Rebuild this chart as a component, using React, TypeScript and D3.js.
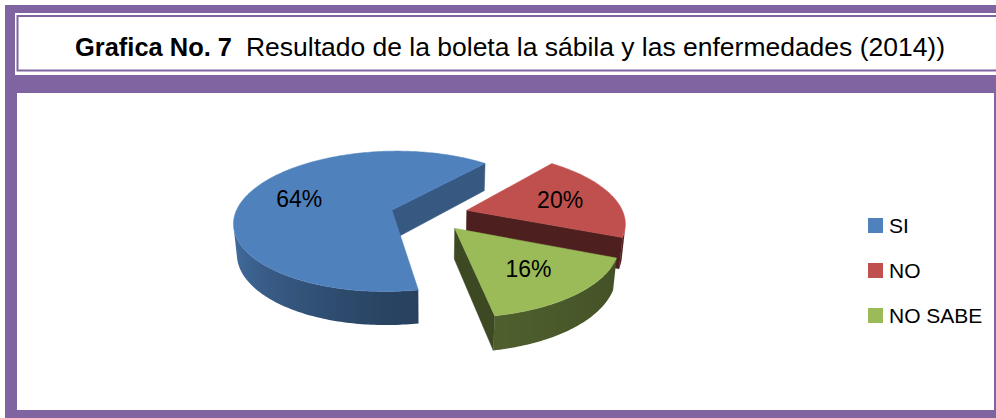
import React from 'react';
import * as d3 from 'd3';

// ---------- data ----------
const categories = ['SI', 'NO', 'NO SABE'];
const values = [64, 20, 16];
const valueLabels = ['64%', '20%', '16%'];
const titleBold = 'Grafica No. 7';
const titleRest = 'Resultado de la boleta la sábila y las enfermedades (2014))';

// ---------- style / layout ----------
const W = 996;
const H = 418;
const PURPLE = '#8064A2';
const FONT = '"Liberation Sans", Arial, sans-serif';
const sliceColors = ['#4F81BD', '#C0504D', '#9BBB59'];
const cutShade = [0.68, 0.4, 0.39];

// 3D pie projection parameters
const CX = 429.3;
const CY = 214.5;
const R = 157;
const TILT = (26.4 * Math.PI) / 180;
const DIST = 875;
const DEPTH = 34;
const EXPLODE = 39;
const START = (169.6 * Math.PI) / 180;
const LABEL_FRAC = 0.64;

type V3 = [number, number, number];

function project(p: V3): [number, number] {
  const [X, Y, Z] = p;
  const yUp = Z * Math.cos(TILT) + Y * Math.sin(TILT);
  const d = Y * Math.cos(TILT) - Z * Math.sin(TILT);
  const s = DIST / (DIST + d);
  return [CX + X * s, CY - yUp * s];
}
const CAM: V3 = [0, -DIST * Math.cos(TILT), DIST * Math.sin(TILT)];
function facing(n: V3, p: V3) {
  return n[0] * (CAM[0] - p[0]) + n[1] * (CAM[1] - p[1]) + n[2] * (CAM[2] - p[2]) > 0;
}
function shade(color: string, f: number) {
  const c = d3.rgb(color);
  return d3.rgb(c.r * f, c.g * f, c.b * f).formatHex();
}
function wallShade(theta: number) {
  let t = ((theta * 180) / Math.PI) % 360;
  if (t < 0) t += 360;
  if (t <= 180) return 0.4 + ((Math.max(t, 90) - 90) / 90) * 0.12;
  return Math.min(0.93, 0.52 + ((t - 180) / 90) * 0.4);
}

const line = d3.line<[number, number]>();

type Stop = { offset: number; color: string };
type Face = { d: string; fill: string; grad?: { id: string; x1: number; x2: number; stops: Stop[] } };
type Slice = { faces: Face[]; depth: number; label: [number, number]; text: string };

function buildSlices(): Slice[] {
  const pie = d3.pie<number>().sort(null).startAngle(START).endAngle(START + 2 * Math.PI);
  const arcs = pie(values);
  return arcs.map((a, i) => {
    const mid = (a.startAngle + a.endAngle) / 2;
    const ox = EXPLODE * Math.sin(mid);
    const oy = EXPLODE * Math.cos(mid);
    const pt = (th: number, r: number, z: number): V3 => [ox + r * Math.sin(th), oy + r * Math.cos(th), z];
    const base = sliceColors[i];
    const faces: Face[] = [];
    const cTop: V3 = [ox, oy, 0];
    const cBot: V3 = [ox, oy, -DEPTH];
    const cuts: [number, V3][] = [
      [a.startAngle, [-Math.cos(a.startAngle), Math.sin(a.startAngle), 0]],
      [a.endAngle, [Math.cos(a.endAngle), -Math.sin(a.endAngle), 0]],
    ];
    cuts.forEach(([th, n]) => {
      const pm = pt(th, R / 2, -DEPTH / 2);
      if (facing(n, pm)) {
        const quad = [cTop, pt(th, R, 0), pt(th, R, -DEPTH), cBot].map(project);
        faces.push({ d: line(quad)! + 'Z', fill: shade(base, cutShade[i]) });
      }
    });
    const steps = Math.max(2, Math.ceil((a.endAngle - a.startAngle) / (Math.PI / 180)));
    const thetas = d3.range(steps + 1).map((k) => a.startAngle + ((a.endAngle - a.startAngle) * k) / steps);
    // group visible wall segments into contiguous runs
    const runs: number[][] = [];
    let cur: number[] | null = null;
    for (let k = 0; k < steps; k++) {
      const tm = (thetas[k] + thetas[k + 1]) / 2;
      const n: V3 = [Math.sin(tm), Math.cos(tm), 0];
      if (facing(n, pt(tm, R, -DEPTH / 2))) {
        if (!cur) {
          cur = [];
          runs.push(cur);
        }
        cur.push(k);
      } else cur = null;
    }
    runs.forEach((run, ri) => {
      const ts = [...run.map((k) => thetas[k]), thetas[run[run.length - 1] + 1]];
      const topPts = ts.map((t) => project(pt(t, R, 0)));
      const botPts = ts.map((t) => project(pt(t, R, -DEPTH))).reverse();
      const xs = [...topPts, ...botPts].map((p) => p[0]);
      const x1 = d3.min(xs)!;
      const x2 = d3.max(xs)!;
      const stops: Stop[] = ts
        .map((t) => ({ offset: (project(pt(t, R, 0))[0] - x1) / (x2 - x1 || 1), color: shade(base, wallShade(t)) }))
        .sort((p, q) => p.offset - q.offset);
      const id = `wall-${i}-${ri}`;
      faces.push({ d: line([...topPts, ...botPts])! + 'Z', fill: `url(#${id})`, grad: { id, x1, x2, stops } });
    });
    const top = [cTop, ...thetas.map((t) => pt(t, R, 0))].map(project);
    faces.push({ d: line(top)! + 'Z', fill: base });
    const label = project(pt(mid, R * LABEL_FRAC, 0));
    return { faces, depth: oy, label, text: valueLabels[i] };
  });
}

export default function App() {
  const slices = buildSlices().sort((a, b) => b.depth - a.depth);
  const legendY = d3.scalePoint<string>().domain(categories).range([218, 308]);
  const grads = slices.flatMap((s) => s.faces.filter((f) => f.grad).map((f) => f.grad!));
  return (
    <svg width={W} height={H} style={{ position: 'absolute', left: 0, top: 0 }} xmlns="http://www.w3.org/2000/svg">
      <defs>
        {grads.map((g) => (
          <linearGradient key={g.id} id={g.id} gradientUnits="userSpaceOnUse" x1={g.x1} x2={g.x2} y1={0} y2={0}>
            {g.stops.map((s, k) => (
              <stop key={k} offset={s.offset} stopColor={s.color} />
            ))}
          </linearGradient>
        ))}
      </defs>
      <rect x={0} y={0} width={W} height={H} fill="#fff" />
      {/* title frame */}
      <rect x={5} y={5} width={W - 5} height={8} fill={PURPLE} />
      <rect x={5} y={5} width={10} height={75} fill={PURPLE} />
      <rect x={17.5} y={16} width={W} height={54.5} fill="none" stroke={PURPLE} strokeWidth={2} />
      {/* chart frame */}
      <rect x={5} y={75} width={W - 5} height={18} fill={PURPLE} />
      <rect x={5} y={75} width={12} height={H - 75} fill={PURPLE} />
      <rect x={994} y={75} width={2} height={H - 75} fill={PURPLE} />
      <rect x={5} y={410} width={W - 5} height={8} fill={PURPLE} />
      {/* title */}
      <text x={75} y={56} fontFamily={FONT} fontSize={26} fontWeight="bold" fill="#000" textLength={157} lengthAdjust="spacingAndGlyphs">
        {titleBold}
      </text>
      <text x={246} y={56} fontFamily={FONT} fontSize={26} fill="#000" textLength={699} lengthAdjust="spacingAndGlyphs">
        {titleRest}
      </text>
      {/* pie */}
      {slices.map((s, i) => (
        <g key={i}>
          {s.faces.map((f, j) => (
            <path key={j} d={f.d} fill={f.fill} stroke={f.grad ? 'none' : f.fill} strokeWidth={0.5} strokeLinejoin="round" />
          ))}
        </g>
      ))}
      {slices.map((s, i) => (
        <text key={'l' + i} x={s.label[0]} y={s.label[1]} fontFamily={FONT} fontSize={23} textAnchor="middle" dominantBaseline="central" fill="#000">
          {s.text}
        </text>
      ))}
      {/* legend */}
      {categories.map((c, i) => (
        <g key={c}>
          <rect x={868} y={legendY(c)!} width={15} height={15} fill={sliceColors[i]} />
          <text x={889} y={legendY(c)! + 15} fontFamily={FONT} fontSize={21} fill="#000">
            {c}
          </text>
        </g>
      ))}
    </svg>
  );
}
